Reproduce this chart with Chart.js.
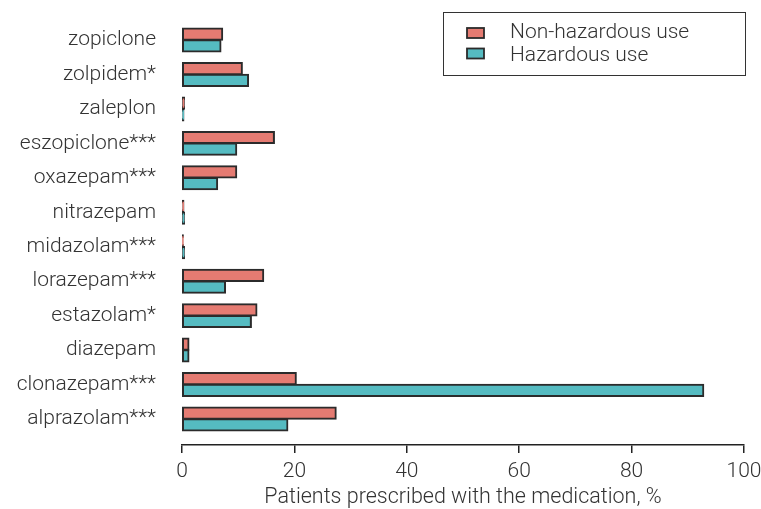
<!DOCTYPE html>
<html>
<head>
<meta charset="utf-8">
<script src="https://cdn.jsdelivr.net/npm/chart.js@4"></script>
<style>
html,body{margin:0;padding:0;background:#fff;}
#wrap{width:761px;height:509px;position:relative;}
</style>
</head>
<body>
<div id="wrap"><canvas id="c" width="761" height="509"></canvas></div>
<script>
const categories = ["zopiclone","zolpidem*","zaleplon","eszopiclone***","oxazepam***","nitrazepam","midazolam***","lorazepam***","estazolam*","diazepam","clonazepam***","alprazolam***"];
const nonHazardous = [7.2, 10.7, 0.4, 16.4, 9.7, 0.3, 0.2, 14.5, 13.3, 1.2, 20.3, 27.4];
const hazardous    = [6.9, 11.8, 0.3, 9.7, 6.3, 0.4, 0.4, 7.7, 12.3, 1.2, 92.8, 18.8];
const seriesNames = ["Non-hazardous use", "Hazardous use"];
const xTicks = [0, 20, 40, 60, 80, 100];
const xTitle = "Patients prescribed with the medication, %";

const FONT = "Roboto, 'Open Sans', sans-serif";
const W = 300;
const TXT = '#333';

const legendPlugin = {
  id: 'boxLegend',
  afterDraw(chart) {
    const ctx = chart.ctx;
    ctx.save();
    ctx.strokeStyle = '#333';
    ctx.lineWidth = 1;
    ctx.strokeRect(443.5, 12.5, 302, 63);
    const sw = [33, 53.5];
    const ty = [33, 56];
    chart.data.datasets.forEach((ds, i) => {
      ctx.fillStyle = ds.backgroundColor;
      ctx.fillRect(467, sw[i] - 5, 17, 10);
      ctx.strokeStyle = '#2b2b2b';
      ctx.lineWidth = 1.8;
      ctx.strokeRect(467, sw[i] - 5, 17, 10);
      ctx.fillStyle = TXT;
      ctx.font = W + " 21px " + FONT;
      ctx.textBaseline = 'middle';
      ctx.textAlign = 'left';
      ctx.fillText(ds.label, 510, ty[i]);
    });
    ctx.restore();
  }
};

new Chart(document.getElementById('c'), {
  type: 'bar',
  data: {
    datasets: [
      { label: seriesNames[0], data: categories.map((c, i) => ({x: nonHazardous[i], y: i})),
        backgroundColor: '#E57B72', borderColor: '#2b2b2b', borderWidth: 2, borderSkipped: false, inflateAmount: 0.75 },
      { label: seriesNames[1], data: categories.map((c, i) => ({x: hazardous[i], y: i})),
        backgroundColor: '#55BBC1', borderColor: '#2b2b2b', borderWidth: 2, borderSkipped: false, inflateAmount: 0.75 }
    ]
  },
  options: {
    responsive: false,
    animation: false,
    indexAxis: 'y',
    layout: { padding: { top: 14, right: 17, left: 0, bottom: 0 } },
    datasets: { bar: { categoryPercentage: 0.68, barPercentage: 1.0 } },
    plugins: { legend: { display: false }, tooltip: { enabled: false } },
    scales: {
      y: {
        type: 'linear',
        reverse: true,
        offset: false,
        min: -0.755,
        max: 11.755,
        afterBuildTicks: (s) => { s.ticks = categories.map((c, i) => ({ value: i })); },
        afterFit: (s) => { s.width = 182; s.paddingTop = 0; s.paddingBottom = 0; },
        grid: { display: false, offset: false },
        border: { display: false },
        ticks: {
          autoSkip: false,
          padding: 18,
          color: TXT,
          font: { family: FONT, size: 21, weight: W },
          callback: (v) => categories[v]
        }
      },
      x: {
        type: 'linear',
        min: 0,
        max: 100,
        afterBuildTicks: (s) => { s.ticks = xTicks.map(v => ({ value: v })); },
        afterFit: (s) => { s.height = 509 - 445; s.paddingRight = 0; s.paddingLeft = 0; },
        grid: { drawOnChartArea: false, drawTicks: true, tickLength: 8, color: '#222', lineWidth: 1.5 },
        border: { display: true, color: '#222', width: 1.5 },
        ticks: { color: TXT, padding: 6, font: { family: FONT, size: 21, weight: W } },
        title: { display: true, text: xTitle, color: TXT, font: { family: FONT, size: 21.5, weight: W }, padding: { top: 0, bottom: -2 } }
      }
    }
  },
  plugins: [legendPlugin]
});
</script>
</body>
</html>
